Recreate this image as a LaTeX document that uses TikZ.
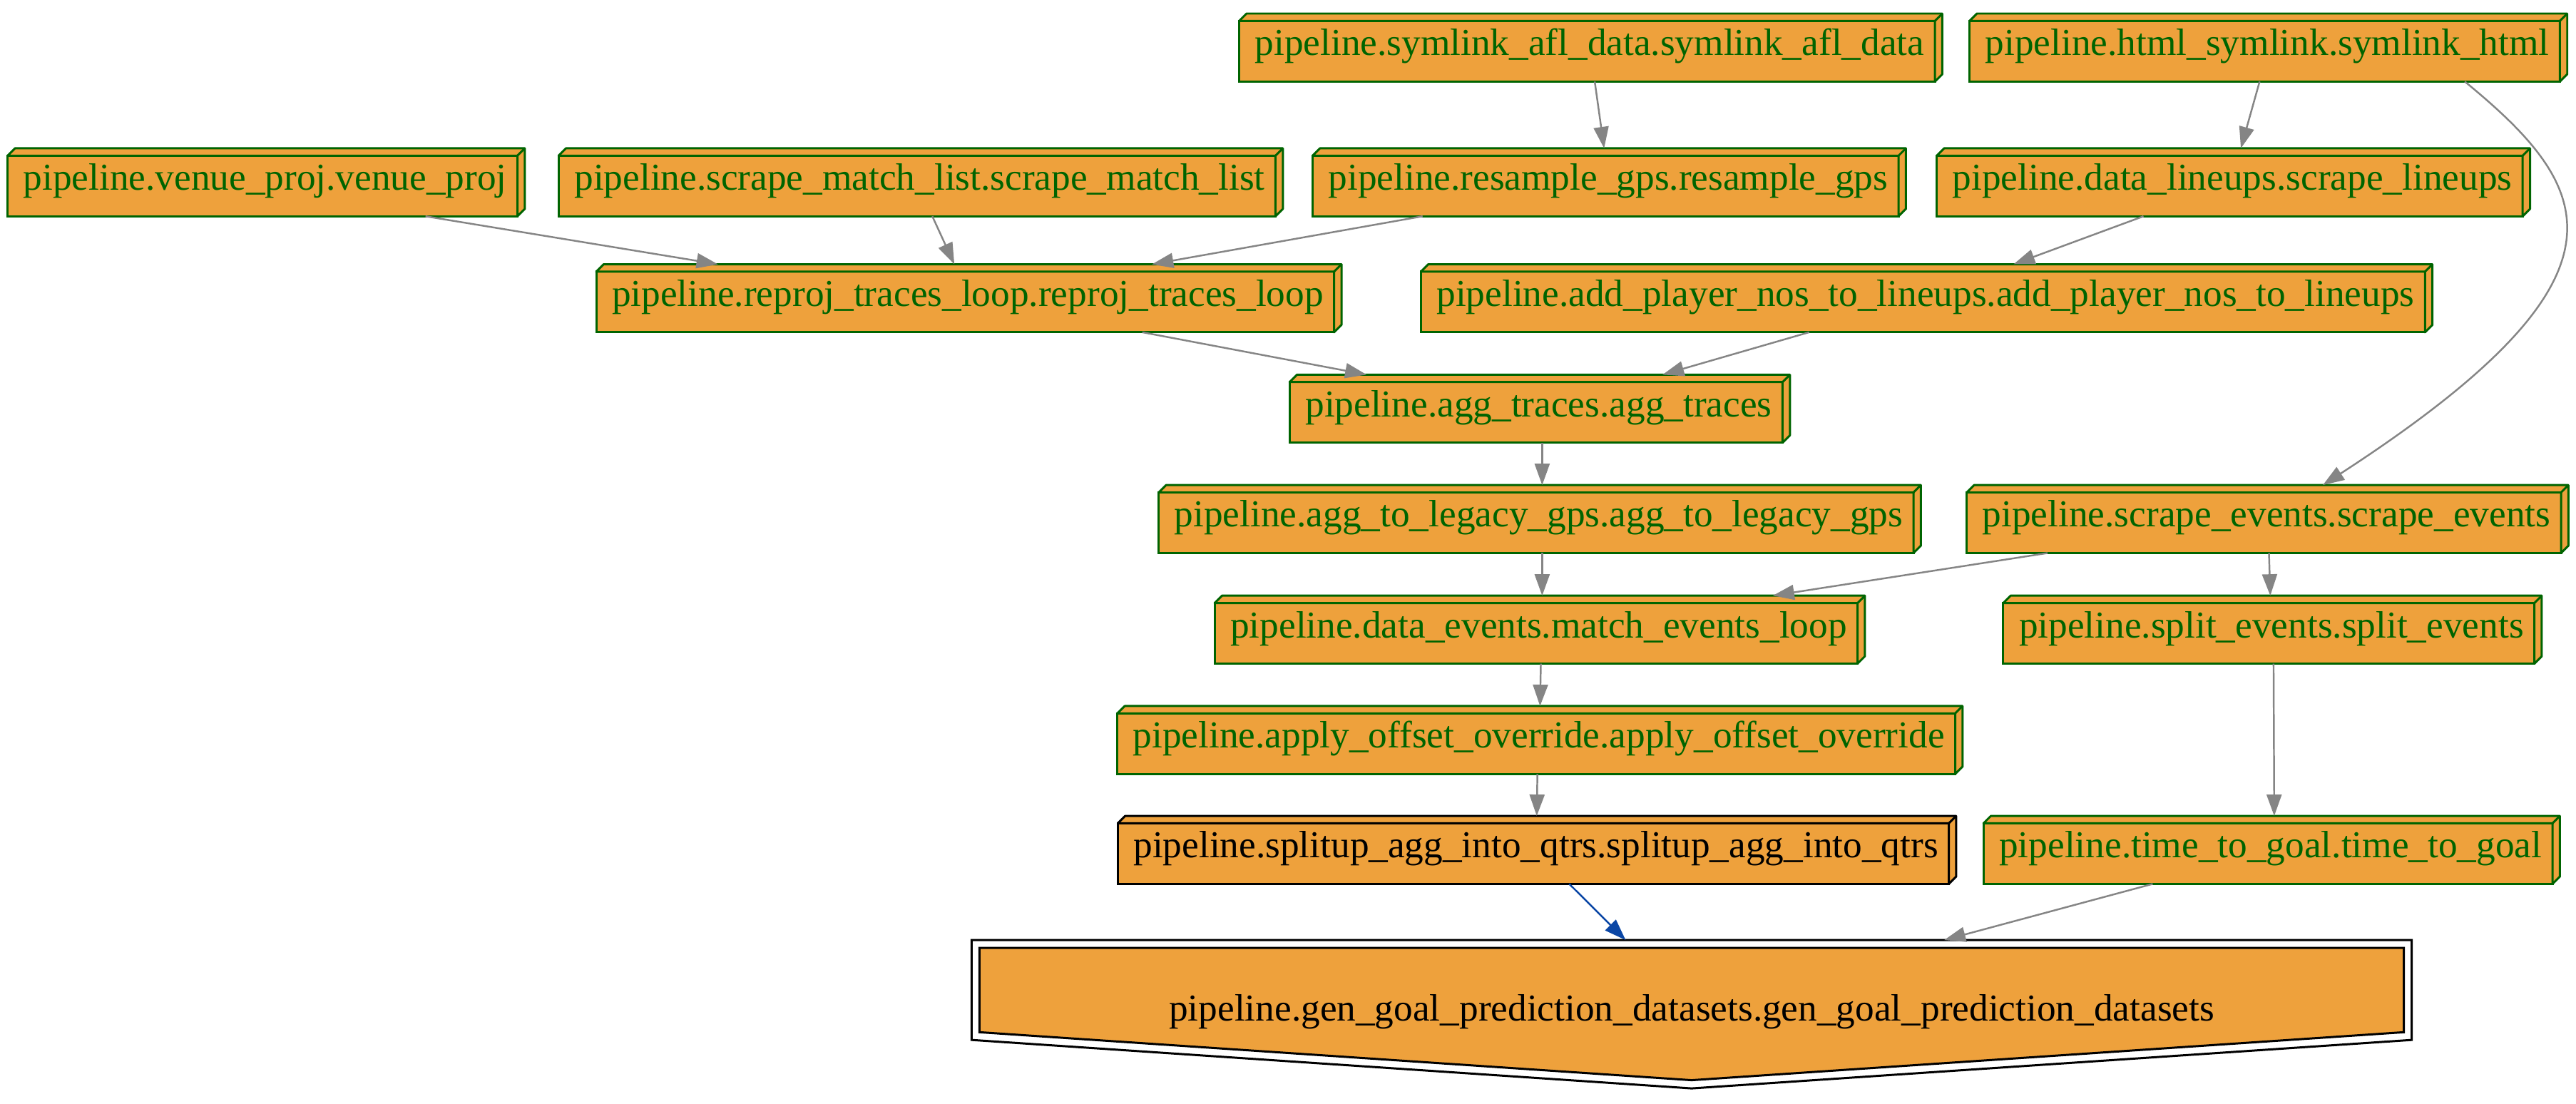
\documentclass[tikz,border=0pt]{standalone}
\usepackage{fontspec}
\setmainfont{Liberation Serif}
\usetikzlibrary{arrows.meta,calc}
\definecolor{orng}{HTML}{EEA13C}
\definecolor{dgreen}{HTML}{006400}
\definecolor{edgegray}{HTML}{858585}
\definecolor{edgeblue}{HTML}{0A46A5}
\newcommand\lbl{\fontsize{15.17pt}{18pt}\selectfont}
\newcommand\boxslab[2]{%
  \draw[line width=0.85pt, draw=#2, fill=orng, line join=round]
    (#1.north west) -- ++(4.5,-4.5) -- ($(#1.north east)+(4.5,-4.5)$)
    -- ($(#1.south east)+(4.5,-4.5)$) -- (#1.south east) -- (#1.north east) -- cycle;
  \draw[line width=0.85pt, draw=#2] (#1.north east) -- ++(4.5,-4.5);
}
\begin{document}
\begin{tikzpicture}[x=0.023036cm, y=-0.023036cm,
  box/.style={rectangle, draw=dgreen, fill=orng, text=dgreen, line width=0.85pt,
    outer sep=0pt, inner xsep=0.149cm, inner ysep=0pt, minimum height=0.85cm,
    text height=0.38cm, text depth=0.26cm, font=\lbl,
    execute at begin node={\hspace*{0.072cm}}},
  boxk/.style={box, draw=black, text=black},
  edge/.style={draw=edgegray, line width=0.7pt, -{Triangle[length=0.3cm,width=0.21cm]}},
  edgeb/.style={edge, draw=edgeblue}]
\useasboundingbox (0,0) rectangle (1568,672);

% nodes
\node[box] (afl) at (966,31.2) {pipeline.symlink\_afl\_data.symlink\_afl\_data};
\node[box] (html) at (1378.5,31.2) {pipeline.html\_symlink.symlink\_html};
\node[box] (venue) at (159.8,113.2) {pipeline.venue\_proj.venue\_proj};
\node[box] (match) at (558.2,113.2) {pipeline.scrape\_match\_list.scrape\_match\_list};
\node[box] (resample) at (977.3,113.2) {pipeline.resample\_gps.resample\_gps};
\node[box] (lineups) at (1357.2,113.2) {pipeline.data\_lineups.scrape\_lineups};
\node[box] (reproj) at (587.5,183.8) {pipeline.reproj\_traces\_loop.reproj\_traces\_loop};
\node[box] (addp) at (1170.5,183.8) {pipeline.add\_player\_nos\_to\_lineups.add\_player\_nos\_to\_lineups};
\node[box] (aggtr) at (935,251) {pipeline.agg\_traces.agg\_traces};
\node[box] (legacy) at (935,318.2) {pipeline.agg\_to\_legacy\_gps.agg\_to\_legacy\_gps};
\node[box] (screv) at (1378,318.2) {pipeline.scrape\_events.scrape\_events};
\node[box] (dataev) at (935,385.5) {pipeline.data\_events.match\_events\_loop};
\node[box] (splitev) at (1381,385.5) {pipeline.split\_events.split\_events};
\node[box] (offset) at (935.1,452.7) {pipeline.apply\_offset\_override.apply\_offset\_override};
\node[boxk] (splitup) at (933.3,519.6) {pipeline.splitup\_agg\_into\_qtrs.splitup\_agg\_into\_qtrs};
\node[box] (ttg) at (1380.5,519.6) {pipeline.time\_to\_goal.time\_to\_goal};

\foreach \n in {afl,html,venue,match,resample,lineups,reproj,addp,aggtr,legacy,screv,dataev,splitev,offset,ttg}
  {\boxslab{\n}{dgreen}}
\boxslab{splitup}{black}

% final node (inverted house, double periphery)
\draw[line width=0.85pt] (591.4,572.2) -- (1468,572.2) -- (1468,633) -- (1029.7,662.5) -- (591.4,633) -- cycle;
\draw[line width=0.85pt, fill=orng] (596.2,577) -- (1463.2,577) -- (1463.2,628.3) -- (1029.7,657.5) -- (596.2,628.3) -- cycle;
\node[font=\lbl, text height=0.38cm, text depth=0.26cm, inner sep=0pt] (gen) at (1029.7,618.7)
  {pipeline.gen\_goal\_prediction\_datasets.gen\_goal\_prediction\_datasets};

% edges
\draw[edge] ($(afl.south)+(4.7,0)$) -- ($(resample.north)+(-0.9,-4.5)$);
\draw[edge] ($(html.south)+(-3.1,0)$) -- ($(lineups.north)+(6.8,-4.5)$);
\draw[edge] ($(html.south)+(121.8,0)$) .. controls ($(html.south)+(201.5,65.35)$) and ($(screv.north)+(232,-131.75)$) .. ($(screv.north)+(35.9,-4.5)$);
\draw[edge] ($(venue.south)+(99.2,0)$) -- ($(reproj.north)+(-150.5,-4.5)$);
\draw[edge] ($(match.south)+(9.3,0)$) -- ($(reproj.north)+(-6.6,-4.5)$);
\draw[edge] ($(resample.south)+(-111.4,0)$) -- ($(reproj.north)+(113.7,-4.5)$);
\draw[edge] ($(lineups.south)+(-52.5,0)$) -- ($(addp.north)+(55.1,-4.5)$);
\draw[edge] ($(reproj.south)+(107.8,0)$) -- ($(aggtr.north)+(-103.2,-4.5)$);
\draw[edge] ($(addp.south)+(-69.3,0)$) -- ($(aggtr.north)+(77,-4.5)$);
\draw[edge] ($(aggtr.south)+(3.7,0)$) -- ($(legacy.north)+(3.7,-4.5)$);
\draw[edge] ($(legacy.south)+(3.7,0)$) -- ($(dataev.north)+(3.7,-4.5)$);
\draw[edge] ($(screv.south)+(-131.7,0)$) -- ($(dataev.north)+(144.1,-4.5)$);
\draw[edge] ($(screv.south)+(3.1,0)$) -- ($(splitev.north)+(0.9,-4.5)$);
\draw[edge] ($(dataev.south)+(2.9,0)$) -- ($(offset.north)+(2.3,-4.5)$);
\draw[edge] ($(offset.south)+(0.7,0)$) -- ($(splitup.north)+(2.1,-4.5)$);
\draw[edge] ($(splitev.south)+(2.9,0)$) -- ($(ttg.north)+(3.8,-4.5)$);
\draw[edgeb] ($(splitup.south)+(21.9,0)$) -- ($(gen.center)+(-40.2,-46.5)$);
\draw[edge] ($(ttg.south)+(-70.2,0)$) -- ($(gen.center)+(153.7,-46.5)$);
\end{tikzpicture}
\end{document}
